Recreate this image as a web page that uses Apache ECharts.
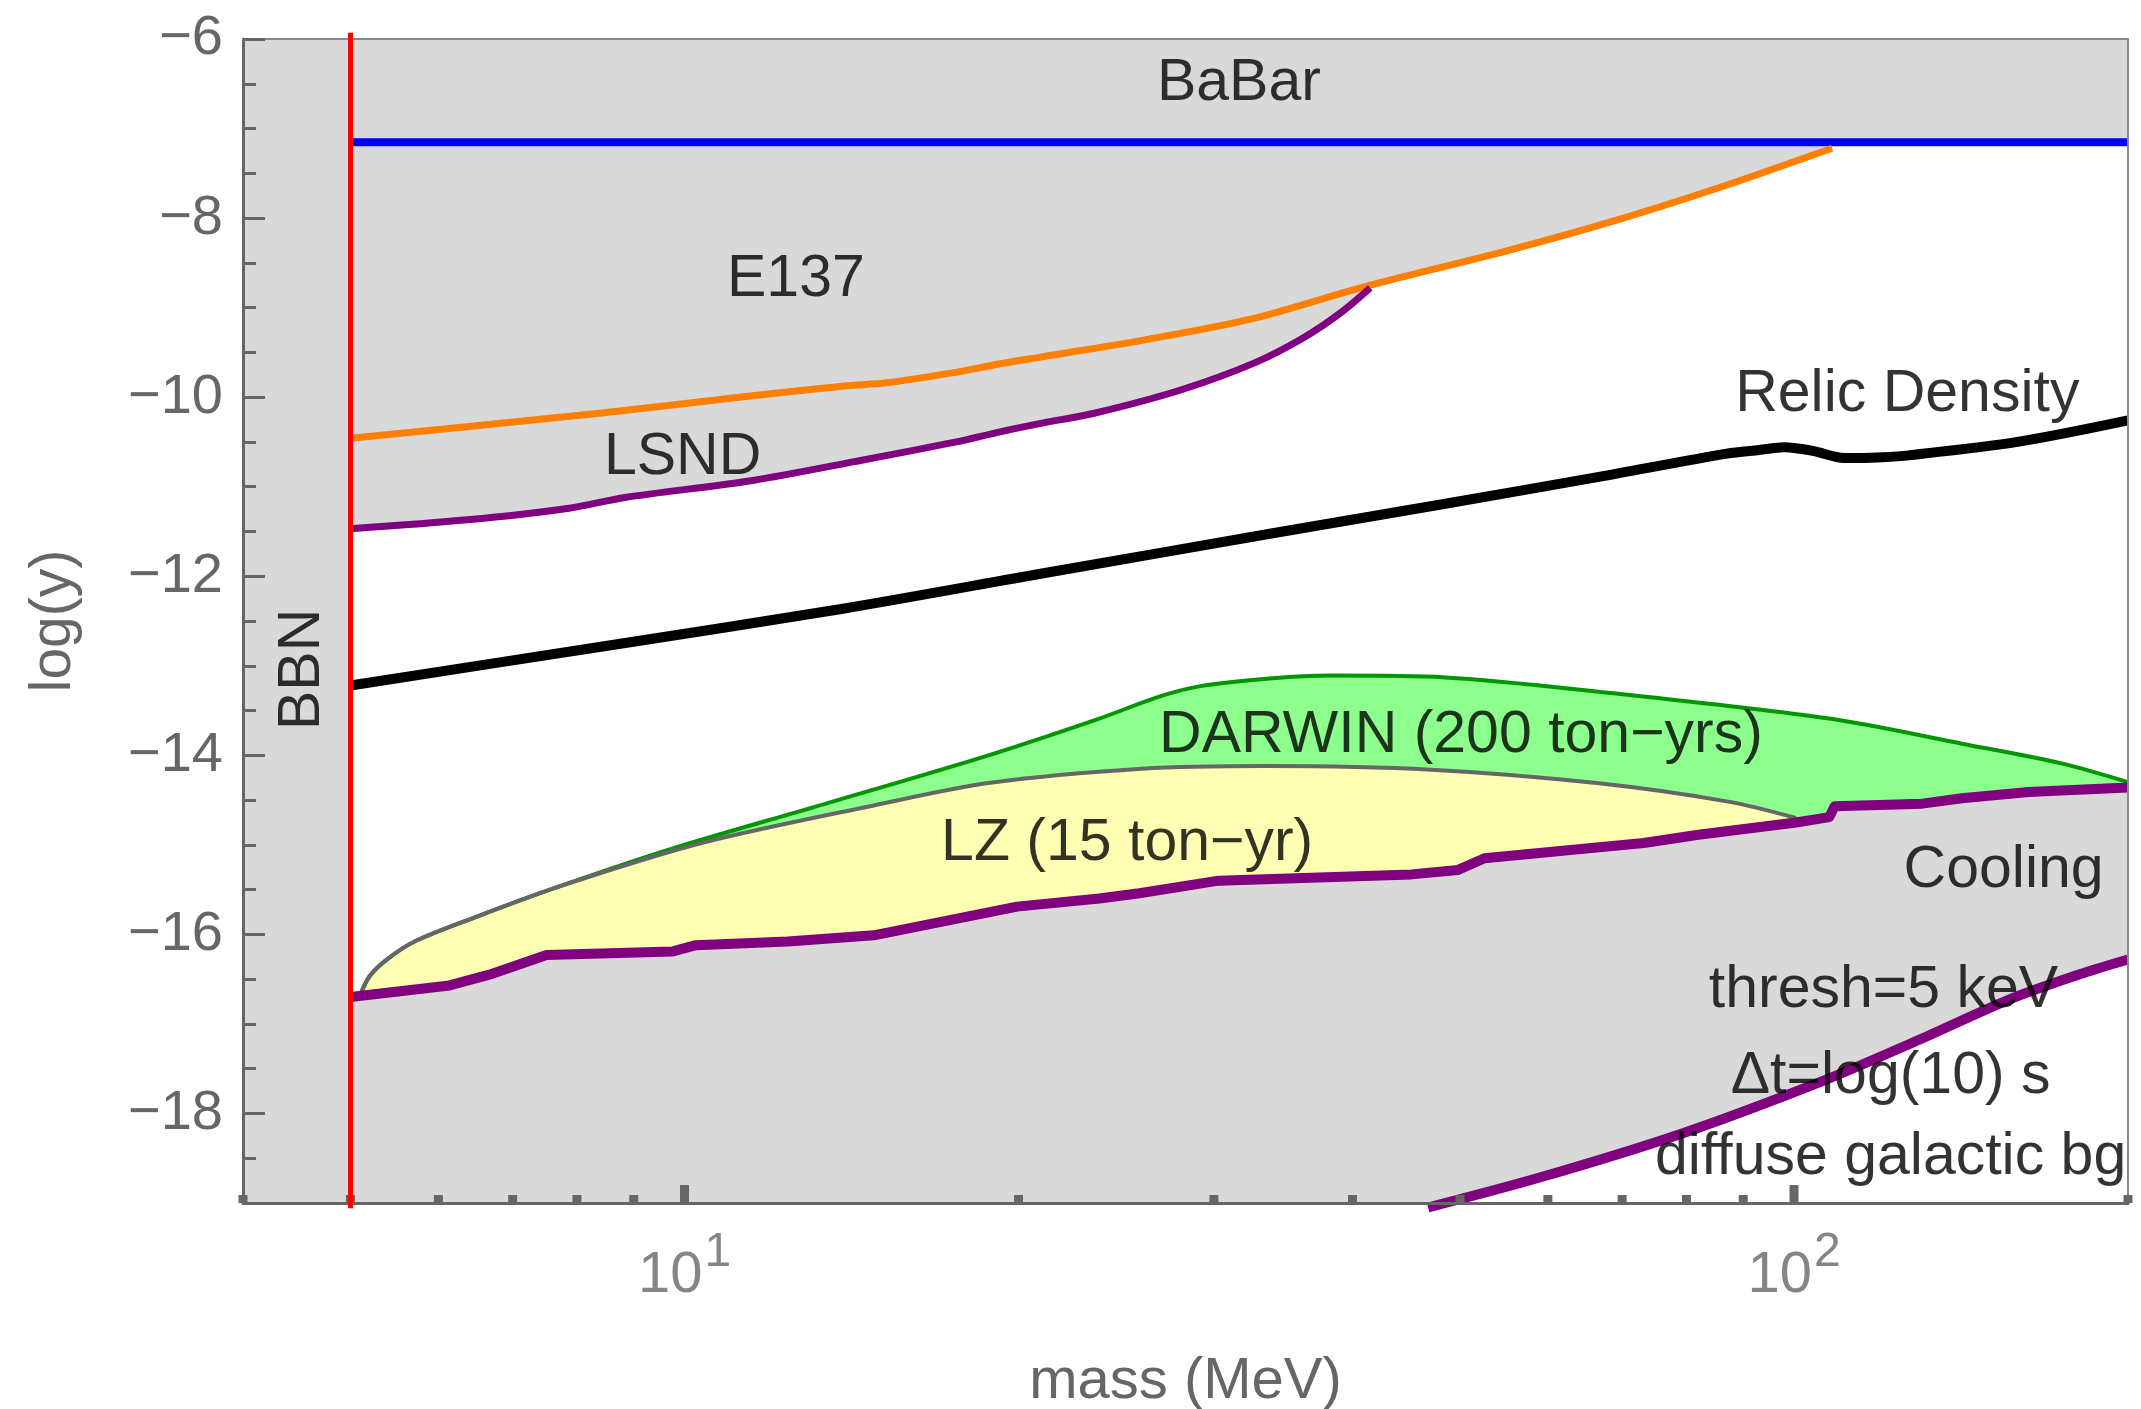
<!DOCTYPE html>
<html>
<head>
<meta charset="utf-8">
<title>log(y) vs mass</title>
<script src="https://cdn.jsdelivr.net/npm/echarts@6/dist/echarts.min.js"></script>
<style>
  html, body { margin: 0; padding: 0; background: #fff; }
  #main { width: 2141px; height: 1409px; }
</style>
</head>
<body>
<div id="main"></div>
<script>
// axis ranges and ticks
var xMin = 4, xMax = 200;
var yMin = -19, yMax = -6;
var yTickValues = [-18, -16, -14, -12, -10, -8, -6];
var xMajorTicks = [10, 100];
var xMajorExp = ['1', '2'];
var xMinorTicks = [4, 5, 6, 7, 8, 9, 20, 30, 40, 50, 60, 70, 80, 90, 200];

// constraint curves, [mass MeV, log(y)]
var bbnMass = 5;
var babarY = -7.154;
var e137 = [[5, -10.46], [6.36, -10.33], [8.38, -10.18], [11.05, -10.01], [13.94, -9.875], [15.2, -9.84],
  [17.6, -9.72], [19.2, -9.63], [21.0, -9.55], [26.0, -9.36], [32.6, -9.12], [40.9, -8.77],
  [55.3, -8.36], [69.3, -8.02], [87.0, -7.63], [108.2, -7.22]];
var lsnd = [[5, -11.47], [6.37, -11.37], [7.87, -11.24], [8.84, -11.12], [11.52, -10.93], [14.23, -10.72],
  [17.58, -10.5], [19.2, -10.39], [21.0, -10.29], [23.4, -10.18], [28.0, -9.92], [32.6, -9.62],
  [36.2, -9.33], [39.1, -9.05], [41.5, -8.78]];
var relic = [[5, -13.22], [8.38, -12.79], [13.94, -12.36], [21.0, -11.97], [33.9, -11.52], [48.5, -11.19],
  [66.7, -10.89], [87.0, -10.63], [93, -10.59], [98, -10.56], [104, -10.6], [111, -10.68],
  [120, -10.67], [126.9, -10.65], [159, -10.5], [200, -10.26]];
var cooling = [[5, -16.7], [6.14, -16.57], [6.67, -16.45], [7.51, -16.23], [9.76, -16.19], [10.24, -16.12],
  [12.39, -16.08], [14.81, -16.01], [19.94, -15.69], [23.65, -15.6], [25.7, -15.54], [30.3, -15.4],
  [45.2, -15.33], [49.8, -15.28], [52.6, -15.15], [73.2, -14.98], [81.7, -14.89], [100.4, -14.75],
  [107.6, -14.69], [108.8, -14.57], [130.5, -14.54], [141.7, -14.48], [162.7, -14.41], [200, -14.36]];
var lz = [[5.1, -16.68], [5.2, -16.47], [5.38, -16.29], [5.71, -16.08], [6.44, -15.82], [7.69, -15.47],
  [10.36, -14.98], [14.81, -14.56], [18.79, -14.31], [25.85, -14.15], [33.4, -14.12], [47.1, -14.16],
  [66.4, -14.31], [87.5, -14.52], [100.4, -14.7]];
var darwin = [[5.1, -16.68], [5.2, -16.47], [5.38, -16.29], [5.71, -16.08], [6.44, -15.82], [7.69, -15.47],
  [9.76, -15.04], [13.15, -14.57], [18.79, -14.0], [23.65, -13.59], [26.7, -13.35], [29.1, -13.23],
  [33.9, -13.14], [38.2, -13.11], [48.5, -13.13], [66.7, -13.29], [107.6, -13.59], [141.7, -13.87],
  [174.2, -14.09], [200, -14.3]];
var diffuse = [[46.8, -19.05], [59.2, -18.71], [79.4, -18.22], [106.5, -17.63], [129.5, -17.18],
  [157.6, -16.71], [182.5, -16.43], [200, -16.28]];

// annotations: [mass, log(y), text, rotation]
var notes = [
  [31.6, -6.45, 'BaBar', 0],
  [12.6, -8.64, 'E137', 0],
  [9.96, -10.63, 'LSND', 0],
  [126.5, -9.93, 'Relic Density', 0],
  [4.49, -13.04, 'BBN', 90],
  [50.1, -13.74, 'DARWIN (200 ton\u2212yrs)', 0],
  [25.06, -14.94, 'LZ (15 ton\u2212yr)', 0],
  [154.5, -15.24, 'Cooling', 0],
  [120.4, -16.58, 'thresh=5 keV', 0],
  [122.2, -17.54, '\u0394t=log(10) s', 0],
  [122.2, -18.45, 'diffuse galactic bg', 0]
];

var FONT = '"Liberation Sans", Arial, sans-serif';
var GRAY = '#666666';
var SHADE = '#d9d9d9';

// lower edge of the excluded band at the top (LSND, then E137, then BaBar)
var lsndEnd = lsnd[lsnd.length - 1][0];
var e137End = e137[e137.length - 1][0];
var envelope = lsnd.concat(e137.filter(function (p) { return p[0] > lsndEnd; }))
  .concat([[e137End, babarY], [xMax, babarY]]);

function curve(data, color, width, fill, extra) {
  var s = {
    type: 'line', data: data, symbol: 'none', silent: true, z: 2,
    lineStyle: { color: color, width: width, join: 'round' }
  };
  if (fill) s.areaStyle = { color: fill, opacity: 1, origin: 'start' };
  if (width === 0) s.lineStyle.opacity = 0;
  for (var k in extra) s[k] = extra[k];
  return s;
}
var soft = { smooth: 0.3 };

function tickSeries(values, len) {
  return {
    type: 'custom', silent: true, z: 11,
    data: values.map(function (v) { return [v, yMin]; }),
    renderItem: function (params, api) {
      var p = api.coord([api.value(0), api.value(1)]);
      return { type: 'rect', shape: { x: p[0] - 4.5, y: p[1] - len, width: 9, height: len },
        style: { fill: GRAY } };
    }
  };
}

var chart = echarts.init(document.getElementById('main'));
var option = {
  animation: false,
  textStyle: { fontFamily: FONT },
  grid: {
    left: 243, right: 13, top: 39, bottom: 206, containLabel: false, outerBoundsMode: 'none',
    show: true, backgroundColor: SHADE, borderWidth: 0
  },
  xAxis: [{
    type: 'log', logBase: 10, min: xMin, max: xMax, position: 'bottom', z: 10,
    axisLine: { show: true, lineStyle: { color: GRAY, width: 3 } },
    axisTick: { show: false }, axisLabel: { show: false }, splitLine: { show: false },
    name: 'mass (MeV)', nameLocation: 'middle', nameGap: 150,
    nameTextStyle: { color: GRAY, fontSize: 58, fontFamily: FONT }
  }, {
    type: 'log', logBase: 10, min: xMin, max: xMax, position: 'top', z: 10,
    axisLine: { show: true, lineStyle: { color: '#888', width: 2 } },
    axisTick: { show: false }, axisLabel: { show: false }, splitLine: { show: false }
  }],
  yAxis: [{
    type: 'value', min: yMin, max: yMax, interval: 0.5, position: 'left', z: 10,
    axisLine: { show: true, lineStyle: { color: GRAY, width: 3 } },
    axisTick: { show: true, inside: true, length: 13, lineStyle: { color: GRAY, width: 3 } },
    axisLabel: { show: false }, splitLine: { show: false },
    name: 'log(y)', nameLocation: 'middle', nameGap: 160, nameRotate: 90,
    nameTextStyle: { color: GRAY, fontSize: 57, fontFamily: FONT }
  }, {
    // same scale, flipped so the major ticks fall on even values
    type: 'value', min: -yMax, max: -yMin, interval: 2, inverse: true, position: 'left', offset: 0, z: 10,
    axisLine: { show: false },
    axisTick: { show: true, inside: true, length: 22, lineStyle: { color: GRAY, width: 3 } },
    axisLabel: {
      show: true, color: GRAY, fontSize: 56, margin: 20, fontFamily: FONT,
      formatter: function (v) { return yTickValues.indexOf(-v) >= 0 ? '\u2212' + v : ''; }
    },
    splitLine: { show: false }
  }, {
    type: 'value', min: yMin, max: yMax, position: 'right', z: 10,
    axisLine: { show: true, lineStyle: { color: '#888', width: 2 } },
    axisTick: { show: false }, axisLabel: { show: false }, splitLine: { show: false }
  }],
  series: [
    curve(envelope, '#fff', 0, '#ffffff'),
    curve(darwin, '#009600', 4, '#8cff8c', soft),
    curve(lz, GRAY, 4, '#ffffb4', soft),
    curve(cooling, SHADE, 0, SHADE),
    curve(diffuse, '#800080', 10, '#ffffff', { clip: false, smooth: 0.3 }),
    curve([[bbnMass, babarY], [xMax, babarY]], '#0000ff', 8, null),
    curve(e137, '#ff8000', 7, null, soft),
    curve(lsnd, '#800080', 7, null, soft),
    curve(relic, '#000000', 10, null, soft),
    curve(cooling, '#800080', 10, null),
    tickSeries(xMinorTicks, 8),
    tickSeries(xMajorTicks, 18),
    curve([[bbnMass, yMin - 0.06], [bbnMass, yMax + 0.07]], '#ff0000', 5, null, { clip: false, z: 12 }),
    {
      type: 'scatter', silent: true, z: 20, symbolSize: 1,
      itemStyle: { color: 'transparent' },
      data: xMajorTicks.map(function (v) { return [v, yMin]; }),
      label: {
        show: true, position: 'bottom', distance: 25,
        formatter: function (p) { return '{a|10}{b|' + xMajorExp[p.dataIndex] + '}'; },
        rich: {
          a: { fontSize: 58, color: GRAY, fontFamily: FONT, verticalAlign: 'bottom' },
          b: { fontSize: 48, color: GRAY, fontFamily: FONT, verticalAlign: 'bottom', padding: [0, 0, 28, 2] }
        }
      }
    },
    {
      type: 'scatter', silent: true, z: 20, symbolSize: 1,
      itemStyle: { color: 'transparent' },
      data: notes.map(function (n) {
        return { value: [n[0], n[1]], name: n[2], label: { rotate: n[3] } };
      }),
      label: {
        show: true, position: 'inside', offset: [0, 4], formatter: '{b}',
        color: '#000', fontSize: 59, fontFamily: FONT
      }
    }
  ]
};
chart.setOption(option);
</script>
</body>
</html>
